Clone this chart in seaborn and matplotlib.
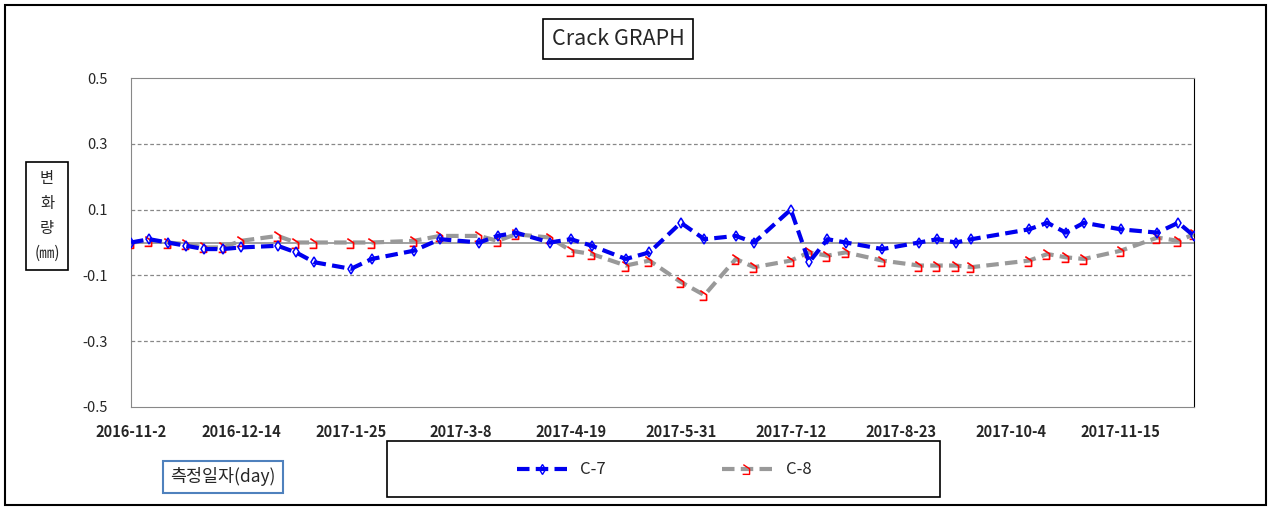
import seaborn as sns
import matplotlib.pyplot as plt
from matplotlib.patches import Rectangle
from matplotlib.path import Path
from matplotlib.lines import Line2D
import pandas as pd

# measurement days after 2016-11-02
days = [0, 7, 14, 21, 28, 35, 42, 56, 63, 70, 84, 92, 108, 118, 133, 140, 147, 160,
        168, 176, 189, 198, 210, 219, 231, 238, 252, 259, 266, 273, 287, 301, 308,
        315, 321, 343, 350, 357, 364, 378, 392, 400, 406]
c7 = [0.0, 0.01, 0.0, -0.01, -0.02, -0.02, -0.015, -0.01, -0.03, -0.06, -0.08, -0.05,
      -0.025, 0.01, 0.0, 0.02, 0.03, 0.0, 0.01, -0.01, -0.05, -0.03, 0.06, 0.01, 0.02,
      0.0, 0.1, -0.06, 0.01, 0.0, -0.02, 0.0, 0.01, 0.0, 0.01, 0.04, 0.06, 0.03, 0.06,
      0.04, 0.03, 0.06, 0.02]
c8 = [0.0, 0.005, 0.0, -0.005, -0.015, -0.015, 0.005, 0.02, 0.0, 0.0, 0.0, 0.0, 0.005,
      0.02, 0.02, 0.005, 0.025, 0.015, -0.025, -0.035, -0.07, -0.055, -0.12, -0.16,
      -0.05, -0.075, -0.055, -0.03, -0.04, -0.03, -0.055, -0.07, -0.07, -0.07, -0.075,
      -0.055, -0.035, -0.045, -0.05, -0.025, 0.015, 0.005, 0.025]
y_ticks = [0.5, 0.3, 0.1, -0.1, -0.3, -0.5]
tick_days = [0, 42, 84, 126, 168, 210, 252, 294, 336, 378]

start = pd.Timestamp('2016-11-02')
df = pd.DataFrame({'date': [start + pd.Timedelta(days=d) for d in days],
                   'C-7': c7, 'C-8': c8})

sns.set_style('white')
plt.rcParams['font.family'] = ['Noto Sans CJK KR', 'DejaVu Sans']

W, H = 1271, 509
fig = plt.figure(figsize=(W/100, H/100), dpi=100)
ax = fig.add_axes([131/W, 1-407/H, (1194-131)/W, (407-78)/H])

# red hook marker used for C-8
hook = Path([(-0.6, 0.7), (0.3, 0.1), (0.3, -0.7), (-0.7, -0.7)],
            [Path.MOVETO, Path.LINETO, Path.LINETO, Path.LINETO])
dash = (0, (3, 1.5))

for y in [0.3, 0.1, -0.1, -0.3]:
    ax.axhline(y, color='#888888', lw=0.9, ls=(0, (3, 2)), zorder=0)
ax.axhline(0, color='#999999', lw=1.3, zorder=0)

sns.lineplot(data=df, x='date', y='C-8', ax=ax, color='#999999', lw=3, zorder=2)
ax.lines[-1].set_linestyle(dash)
ax.plot(df['date'], df['C-8'], ls='none', marker=hook, ms=7, mfc='none',
        mec='red', mew=1.2, zorder=3)
sns.lineplot(data=df, x='date', y='C-7', ax=ax, color='#0000ee', lw=3, zorder=4)
ax.lines[-1].set_linestyle(dash)
ax.plot(df['date'], df['C-7'], ls='none', marker='d', ms=5.5, mfc='none',
        mec='#0000ff', mew=1.1, zorder=5)

ax.set_xlim(start, start + pd.Timedelta(days=406))
ax.set_ylim(-0.5, 0.5)
ax.set_yticks(y_ticks)
ax.set_yticklabels([f'{v:.1f}' for v in y_ticks], fontsize=10.5)
tick_dates = [start + pd.Timedelta(days=d) for d in tick_days]
ax.set_xticks(tick_dates)
ax.set_xticklabels([f'{d.year}-{d.month}-{d.day}' for d in tick_dates],
                   fontsize=10.5, fontweight='bold')
ax.tick_params(axis='y', length=5, color='#888888', pad=12)
ax.tick_params(axis='x', length=0, pad=12)
ax.set_xlabel('')
ax.set_ylabel('')
for s in ['top', 'left', 'bottom']:
    ax.spines[s].set_color('#888888')
ax.spines['right'].set_color('black')

# outer frame
fig.patches.append(Rectangle((5/W, 4/H), 1261/W, 500/H, transform=fig.transFigure,
                             fill=False, ec='black', lw=1.5))

fig.text(618/W, 1-39/H, 'Crack GRAPH', ha='center', va='center', fontsize=15.5,
         bbox=dict(boxstyle='square,pad=0.4', fc='white', ec='black', lw=1.2))
fig.text(47/W, 1-216/H, '변\n화\n량\n(㎜)', ha='center', va='center', fontsize=11,
         linespacing=1.6,
         bbox=dict(boxstyle='square,pad=0.55', fc='white', ec='black', lw=1.2))
fig.text(223/W, 1-477/H, '측정일자(day)', ha='center', va='center', fontsize=12.5,
         bbox=dict(boxstyle='square,pad=0.4', fc='white', ec='#4f81bd', lw=1.5))

# legend box
fig.patches.append(Rectangle((387/W, 1-497/H), (940-387)/W, (497-441)/H,
                             transform=fig.transFigure, fill=False, ec='black', lw=1.2))
leg_handles = [
    Line2D([], [], color='#0000ee', lw=3, ls=dash, marker='d', ms=5.5,
           mfc='none', mec='#0000ff'),
    Line2D([], [], color='#999999', lw=3, ls=dash, marker=hook, ms=7,
           mfc='none', mec='red'),
]
fig.legend(leg_handles, ['C-7', 'C-8'], loc='center',
           bbox_to_anchor=(664/W, 1-470/H), ncol=2, frameon=False,
           fontsize=12, handlelength=3, columnspacing=7, borderaxespad=0)

fig.savefig('out.png', dpi=100)
